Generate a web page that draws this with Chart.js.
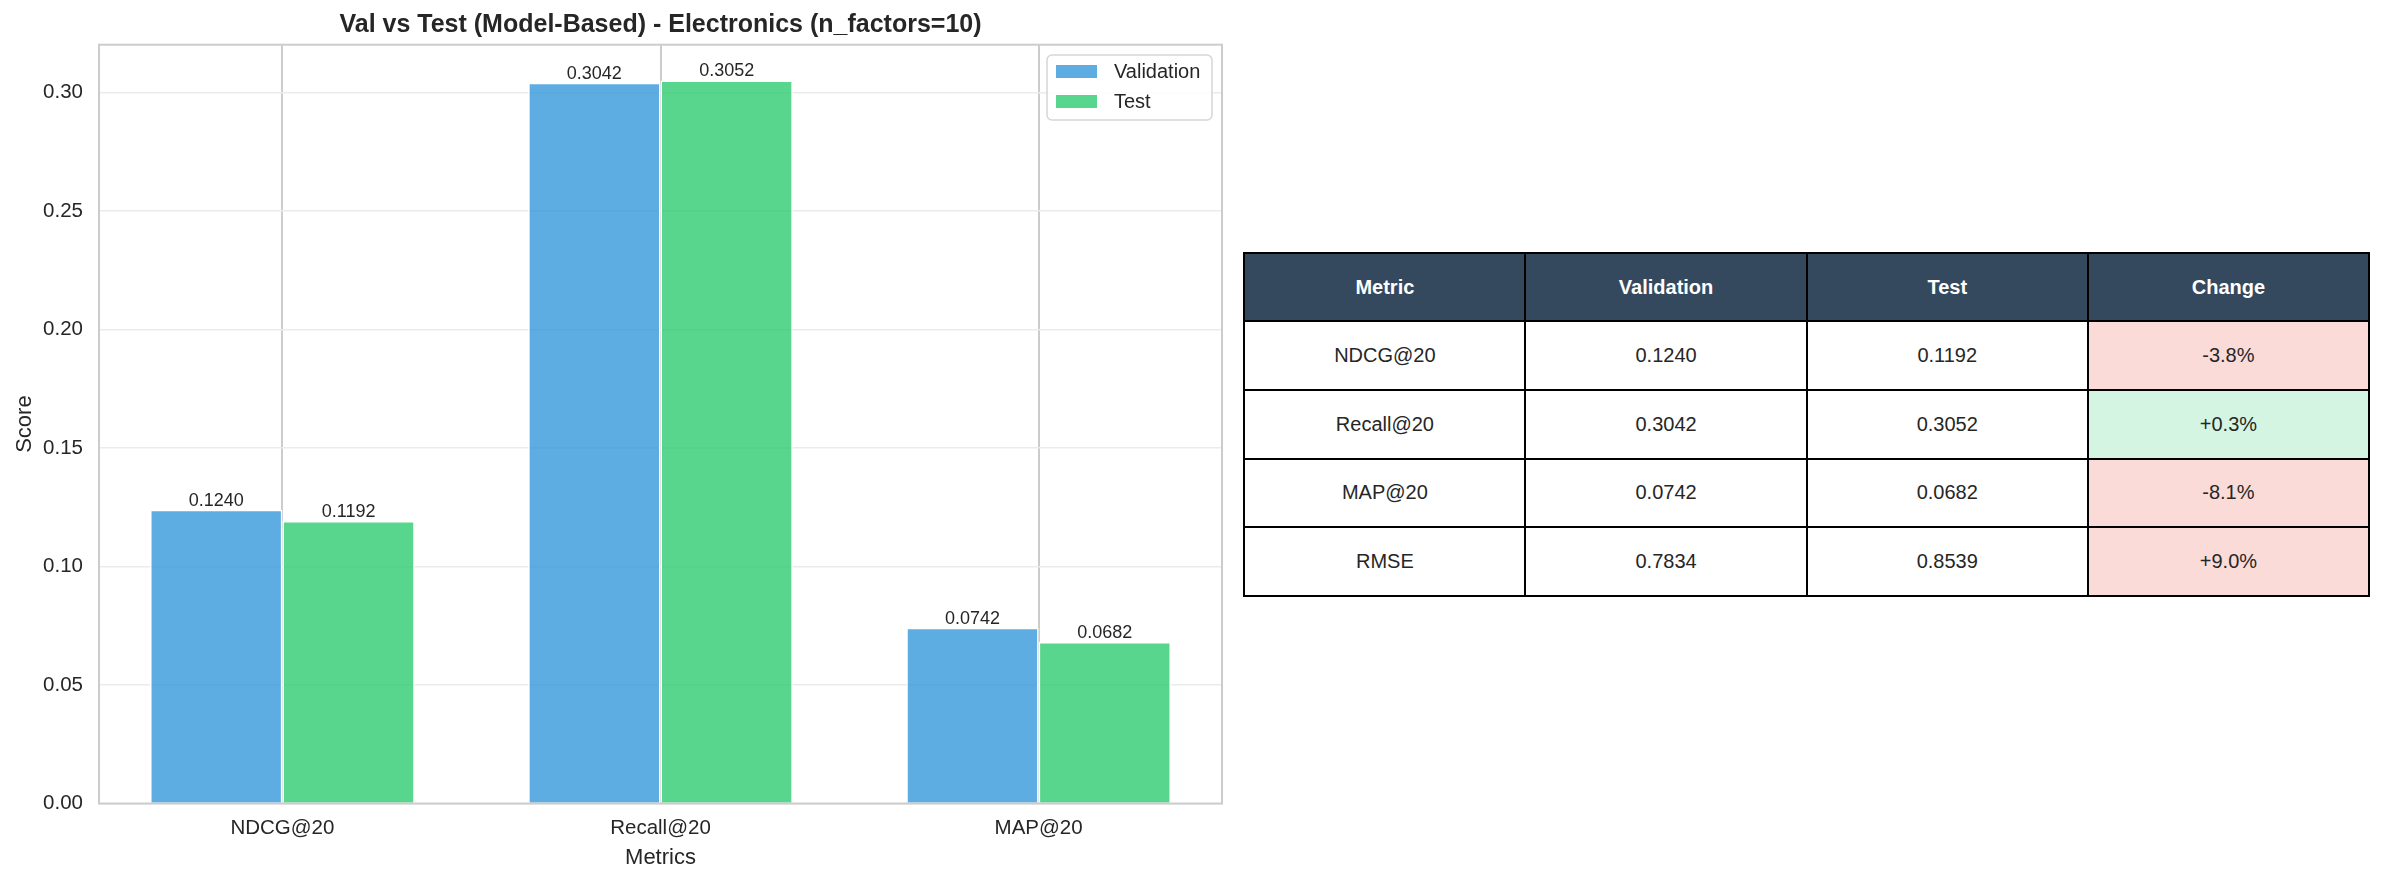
<!DOCTYPE html>
<html>
<head>
<meta charset="utf-8">
<script src="https://cdn.jsdelivr.net/npm/chart.js@4/dist/chart.umd.min.js"></script>
<style>
  html, body { margin:0; padding:0; background:#fff; width:2384px; height:881px; overflow:hidden; }
  #wrap { position:absolute; left:0; top:0; width:1240px; height:881px; }
  #tbl { position:absolute; left:1243.3px; top:251.7px; width:1126.7px; height:345.3px;
         border-collapse:collapse; table-layout:fixed;
         font-family:"Liberation Sans", Arial, sans-serif; font-size:20px; color:#262626; }
  #tbl td, #tbl th { border:2px solid #000; text-align:center; vertical-align:middle; padding:0; width:25%; height:20%; }
  #tbl th { background:#34495e; color:#fff; font-weight:bold; }
</style>
</head>
<body>
<div id="wrap"><canvas id="c" width="1240" height="881"></canvas></div>
<table id="tbl"></table>
<script>
// ---- data ----
const categories = ['NDCG@20', 'Recall@20', 'MAP@20'];
const valScores = [0.1240, 0.3042, 0.0742];
const testScores = [0.1192, 0.3052, 0.0682];
const yTicks = [0, 0.05, 0.10, 0.15, 0.20, 0.25, 0.30];
const tableHeader = ['Metric', 'Validation', 'Test', 'Change'];
const tableMetrics = ['NDCG@20', 'Recall@20', 'MAP@20', 'RMSE'];
const tableVal = ['0.1240', '0.3042', '0.0742', '0.7834'];
const tableTest = ['0.1192', '0.3052', '0.0682', '0.8539'];
const tableChange = ['-3.8%', '+0.3%', '-8.1%', '+9.0%'];
const changeImproved = [false, true, false, false];

// ---- table ----
const tbl = document.getElementById('tbl');
let html = '<tr>' + tableHeader.map(h => '<th>' + h + '</th>').join('') + '</tr>';
tableMetrics.forEach((m, i) => {
  const bg = changeImproved[i] ? '#d5f5e3' : '#fadbd8';
  html += '<tr><td>' + m + '</td><td>' + tableVal[i] + '</td><td>' + tableTest[i] +
          '</td><td style="background:' + bg + '">' + tableChange[i] + '</td></tr>';
});
tbl.innerHTML = html;

// ---- chart ----
const FONT = '"Liberation Sans", Arial, sans-serif';
const TXT = '#262626';

const framePlugin = {
  id: 'frame',
  afterDatasetsDraw(chart) {
    const {ctx, chartArea: a} = chart;
    ctx.save();
    ctx.strokeStyle = '#cccccc';
    ctx.lineWidth = 2;
    ctx.strokeRect(a.left, a.top, a.right - a.left, a.bottom - a.top);
    ctx.restore();
  }
};

const valueLabels = {
  id: 'valueLabels',
  afterDatasetsDraw(chart) {
    const {ctx} = chart;
    ctx.save();
    ctx.font = '18px ' + FONT;
    ctx.fillStyle = TXT;
    ctx.textAlign = 'center';
    ctx.textBaseline = 'alphabetic';
    chart.data.datasets.forEach((ds, di) => {
      chart.getDatasetMeta(di).data.forEach((el, i) => {
        ctx.fillText(ds.data[i].y.toFixed(4), el.x, el.y - 4);
      });
    });
    ctx.restore();
  }
};

const boxLegend = {
  id: 'boxLegend',
  afterDraw(chart) {
    const {ctx, chartArea: a} = chart;
    const w = 165, h = 65;
    const x0 = a.right - 10 - w, y0 = a.top + 10.3;
    ctx.save();
    ctx.beginPath();
    ctx.roundRect(x0, y0, w, h, 5);
    ctx.fillStyle = 'rgba(255,255,255,0.85)';
    ctx.fill();
    ctx.strokeStyle = '#d6d6d6';
    ctx.lineWidth = 1.5;
    ctx.stroke();
    ctx.font = '20px ' + FONT;
    ctx.textBaseline = 'middle';
    ctx.textAlign = 'left';
    chart.data.datasets.forEach((ds, i) => {
      const cy = y0 + 16.5 + i * 30;
      ctx.fillStyle = ds.backgroundColor;
      ctx.fillRect(x0 + 9, cy - 6.5, 41, 13);
      ctx.fillStyle = TXT;
      ctx.fillText(ds.label, x0 + 67, cy + 1);
    });
    ctx.restore();
  }
};

new Chart(document.getElementById('c'), {
  type: 'bar',
  data: {
    datasets: [
      { label: 'Validation', data: valScores.map((v, i) => ({x: i, y: v})),
        backgroundColor: 'rgba(52,152,219,0.8)', borderColor: '#ffffff', borderWidth: 1.5,
        categoryPercentage: 0.7, barPercentage: 1.0 },
      { label: 'Test', data: testScores.map((v, i) => ({x: i, y: v})),
        backgroundColor: 'rgba(46,204,113,0.8)', borderColor: '#ffffff', borderWidth: 1.5,
        categoryPercentage: 0.7, barPercentage: 1.0 }
    ]
  },
  options: {
    responsive: false,
    animation: false,
    devicePixelRatio: 1,
    layout: { padding: { left: 0, right: 18, top: 0, bottom: 0 } },
    plugins: {
      legend: { display: false },
      tooltip: { enabled: false },
      title: {
        display: true,
        fullSize: false,
        text: 'Val vs Test (Model-Based) - Electronics (n_factors=10)',
        font: { family: FONT, size: 25, weight: 'bold' },
        color: TXT,
        padding: { top: 10, bottom: 4.7 }
      }
    },
    scales: {
      x: {
        type: 'linear',
        min: -0.485, max: 2.485,
        offset: false,
        afterBuildTicks: s => { s.ticks = categories.map((c, i) => ({value: i})); },
        afterFit: s => { s.height = 77.5; },
        ticks: {
          callback: (v) => categories[v],
          font: { family: FONT, size: 20.5 }, color: TXT, padding: 13, maxRotation: 0
        },
        grid: { color: '#cccccc', lineWidth: 2, drawTicks: false, offset: false },
        border: { display: false },
        title: { display: true, text: 'Metrics', font: { family: FONT, size: 22 }, color: TXT,
                 padding: { top: 0, bottom: 10 } }
      },
      y: {
        min: 0, max: 0.3203,
        afterBuildTicks: s => { s.ticks = yTicks.map(v => ({value: v})); },
        afterFit: s => { s.width = 99; },
        ticks: {
          callback: (v) => v.toFixed(2),
          font: { family: FONT, size: 20.5 }, color: TXT, padding: 16
        },
        grid: { color: '#ebebeb', lineWidth: 1.5, drawTicks: false },
        border: { display: false },
        title: { display: true, text: 'Score', font: { family: FONT, size: 22 }, color: TXT,
                 padding: { top: 12, bottom: 0 } }
      }
    }
  },
  plugins: [framePlugin, valueLabels, boxLegend]
});
</script>
</body>
</html>
